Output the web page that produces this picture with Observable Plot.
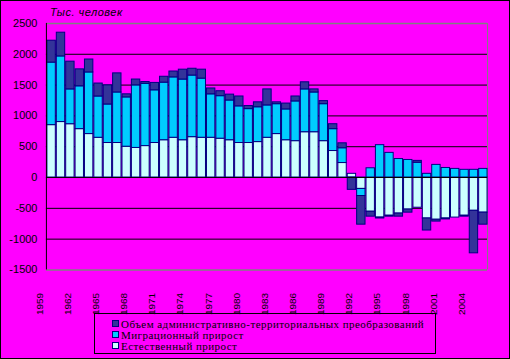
<!DOCTYPE html>
<html>
<head>
<meta charset="utf-8">
<script src="https://cdn.jsdelivr.net/npm/d3@7"></script>
<script src="https://cdn.jsdelivr.net/npm/@observablehq/plot@0.6"></script>
<style>
  html, body { margin: 0; padding: 0; background: #fff; }
  #wrap { position: relative; width: 510px; height: 359px; background: #FF00FF; box-sizing: border-box; border: 1px solid #000; overflow: hidden; }
  #chart { position: absolute; left: -1px; top: -1px; }
  #title { position: absolute; left: 49px; top: 5px; font: italic 11px "Liberation Sans", Arial, sans-serif; color: #000; letter-spacing: 0.5px; }
  #legend { position: absolute; left: 93px; top: 312px; width: 342px; height: 41px; box-sizing: border-box; border: 1px solid #000; padding-top: 4px; }
  .row { position: relative; height: 11px; line-height: 11px; font: 11px "Liberation Serif", "Times New Roman", serif; color: #000; padding-left: 26px; white-space: nowrap; letter-spacing: 0.45px; }
  .sw { position: absolute; left: 17px; top: 2px; width: 7px; height: 7px; box-sizing: border-box; border: 1px solid #000080; }
</style>
</head>
<body>
<div id="wrap">
  <div id="chart"></div>
  <div id="title">Тыс. человек</div>
  <div id="legend"></div>
</div>
<script>
const years = [1959,1960,1961,1962,1963,1964,1965,1966,1967,1968,1969,1970,1971,1972,1973,1974,1975,1976,1977,1978,1979,1980,1981,1982,1983,1984,1985,1986,1987,1988,1989,1990,1991,1992,1993,1994,1995,1996,1997,1998,1999,2000,2001,2002,2003,2004,2005];
const natural = [850,900,865,785,705,645,560,560,500,480,510,560,605,645,605,655,645,645,630,605,560,560,575,645,705,605,590,735,735,590,430,235,60,-185,-555,-650,-620,-585,-520,-490,-665,-685,-665,-650,-620,-540,-570];
const migration = [1015,1065,565,695,1000,670,625,820,800,1015,1010,855,935,980,985,1000,960,705,690,645,595,550,565,525,485,500,645,695,645,600,355,240,0,-115,150,525,400,300,285,240,60,205,155,140,125,125,140];
const admin = [355,385,450,275,210,210,310,310,50,95,30,120,95,95,160,110,145,95,80,95,160,50,80,260,30,95,80,115,50,50,80,80,-200,-465,-80,-15,-15,-50,-50,30,-195,-30,-15,0,-15,-690,-195];
const seriesNames = ["Естественный прирост", "Миграционный прирост", "Объем административно-территориальных преобразований"];
const seriesColors = ["#CCFFFF", "#00CCFF", "#333399"];
const legendOrder = [2, 1, 0];
const tickYears = [1959,1962,1965,1968,1971,1974,1977,1980,1983,1986,1989,1992,1995,1998,2001,2004];
const yTicks = [-1500,-1000,-500,0,500,1000,1500,2000,2500];

const rows = [];
years.forEach((yr, i) => {
  [natural[i], migration[i], admin[i]].forEach((v, k) => {
    if (v !== 0) rows.push({year: yr, series: seriesNames[k], value: v});
  });
});

const chart = Plot.plot({
  width: 510,
  height: 312,
  marginLeft: 46,
  marginRight: 22,
  marginTop: 23,
  marginBottom: 42,
  style: {background: "transparent", overflow: "visible"},
  x: {domain: [years[0], years[years.length - 1] + 1], axis: null},
  y: {domain: [-1500, 2500], axis: null},
  color: {domain: seriesNames, range: seriesColors},
  marks: [
    Plot.ruleY([2000, 1500, 1000, 500, -500, -1000], {stroke: "#000", strokeWidth: 1}),
    Plot.ruleY([2500, -1500], {stroke: "#808080", strokeWidth: 1.5}),
    Plot.ruleX([years[years.length - 1] + 1], {stroke: "#808080", strokeWidth: 1}),
    Plot.rectY(rows, {x: "year", interval: 1, y: "value", fill: "series", stroke: "#000080", strokeWidth: 1}),
    Plot.ruleY([0], {stroke: "#000", strokeWidth: 1}),
    Plot.ruleX([years[0]], {stroke: "#000", strokeWidth: 1}),
    Plot.axisY({ticks: yTicks, tickSize: 0, tickPadding: 9, tickFormat: d => String(d), fontSize: 11, fontFamily: "Liberation Sans, Arial, sans-serif", label: null, fill: "#000"}),
    Plot.axisX(tickYears.map(d => d - 0.75), {tickRotate: -90, tickSize: 0, tickPadding: 23, tickFormat: d => String(Math.round(d + 0.75)), fontSize: 10, fontFamily: "Liberation Sans, Arial, sans-serif", label: null, fill: "#000"})
  ]
});
document.getElementById("chart").appendChild(chart);

const legend = document.getElementById("legend");
legendOrder.forEach(k => {
  const row = document.createElement("div");
  row.className = "row";
  const sw = document.createElement("span");
  sw.className = "sw";
  sw.style.background = seriesColors[k];
  row.appendChild(sw);
  row.appendChild(document.createTextNode(seriesNames[k]));
  legend.appendChild(row);
});
</script>
</body>
</html>
